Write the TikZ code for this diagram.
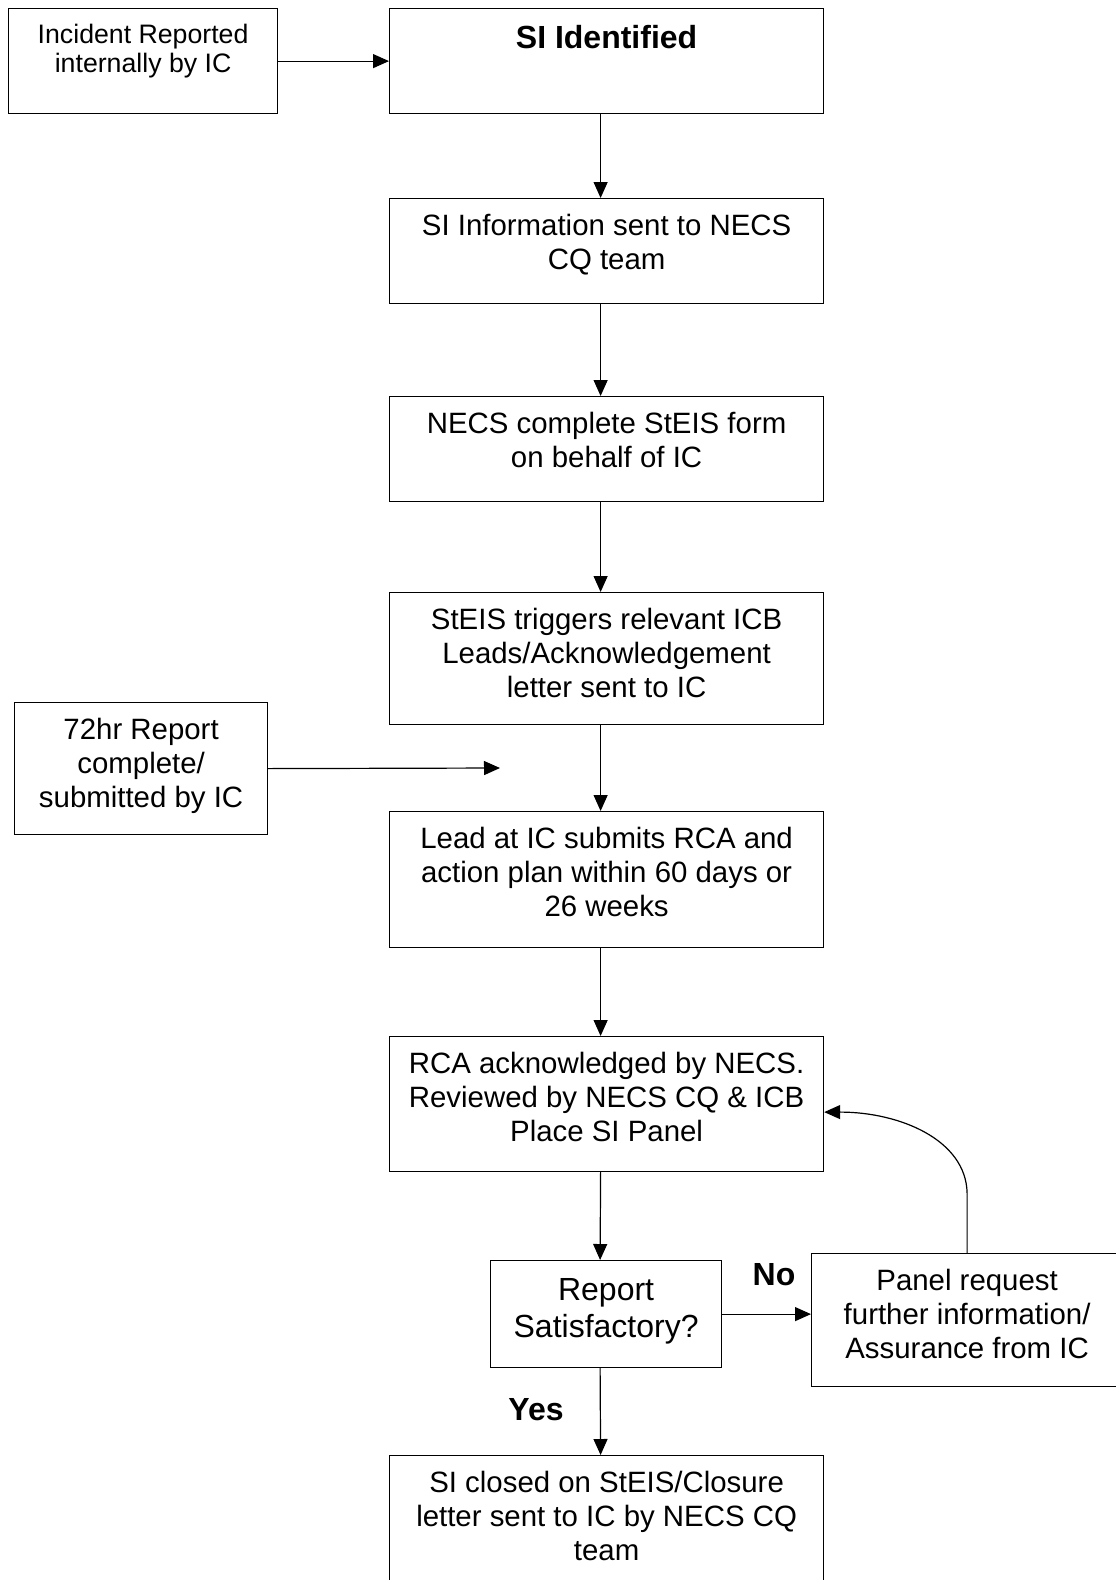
\documentclass[tikz,border=0pt]{standalone}
\usepackage{fontspec}
\setmainfont{Liberation Sans}
\usetikzlibrary{arrows.meta,positioning}
\tikzset{
  box/.style={draw, line width=1.2pt, anchor=north west, inner sep=0pt},
  txt/.style={anchor=north, align=center, inner sep=0pt, font=\fontsize{29.4}{34}\selectfont},
  lbl/.style={font=\fontsize{32}{36}\selectfont\bfseries},
  arr/.style={line width=1.2pt, -{Triangle[length=16pt,width=14pt]}},
}
\begin{document}
\begin{tikzpicture}[x=1pt,y=-1pt]
  \useasboundingbox[fill=white] (0,0) rectangle (1116,1580);
  % boxes
  \node[box, minimum width=269pt, minimum height=105pt] (inc) at (8,8) {};
  \node[box, minimum width=434pt, minimum height=105pt] (ident) at (389,8) {};
  \node[box, minimum width=434pt, minimum height=105pt] (info) at (389,198) {};
  \node[box, minimum width=434pt, minimum height=105pt] (necs) at (389,396) {};
  \node[box, minimum width=434pt, minimum height=132pt] (steis) at (389,592) {};
  \node[box, minimum width=253pt, minimum height=132pt] (hr72) at (14,702) {};
  \node[box, minimum width=434pt, minimum height=136pt] (lead) at (389,811) {};
  \node[box, minimum width=434pt, minimum height=135pt] (rca) at (389,1036) {};
  \node[box, minimum width=231pt, minimum height=107pt] (rep) at (490,1260) {};
  \node[box, minimum width=311pt, minimum height=133pt] (panel) at (811,1253) {};
  \node[box, minimum width=434pt, minimum height=150pt] (close) at (389,1455) {};
  % texts
  \node[txt, font=\fontsize{26.7}{29}\selectfont, below=16pt of inc.north] (incT) {Incident Reported\\internally by IC};
  \node[txt, font=\fontsize{32}{36}\selectfont\bfseries, below=17pt of ident.north] (identT) {SI Identified};
  \node[txt, below=16pt of info.north] (infoT) {SI Information sent to NECS\\CQ team};
  \node[txt, below=16pt of necs.north] (necsT) {NECS complete StEIS form\\on behalf of IC};
  \node[txt, below=16pt of steis.north] (steisT) {StEIS triggers relevant ICB\\Leads/Acknowledgement\\letter sent to IC};
  \node[txt, below=16pt of hr72.north] (hr72T) {72hr Report\\complete/\\submitted by IC};
  \node[txt, below=16pt of lead.north] (leadT) {Lead at IC submits RCA and\\action plan within 60 days or\\26 weeks};
  \node[txt, below=16pt of rca.north] (rcaT) {RCA acknowledged by NECS.\\Reviewed by NECS CQ \& ICB\\Place SI Panel};
  \node[txt, font=\fontsize{32}{37}\selectfont, below=18pt of rep.north] (repT) {Report\\Satisfactory?};
  \node[txt, below=16pt of panel.north] (panelT) {Panel request\\further information/\\Assurance from IC};
  \node[txt, below=16pt of close.north] (closeT) {SI closed on StEIS/Closure\\letter sent to IC by NECS CQ\\team};
  % connectors
  \draw[arr] (inc.east) -- (ident.west);
  \foreach \a/\b in {ident/info, info/necs, necs/steis, steis/lead, lead/rca, rca/rep, rep/close}
    \draw[arr] ([xshift=-6pt]\a.south) -- ([xshift=-6pt]\b.north);
  \coordinate (hrend) at (500,768);
  \draw[arr] (hr72.east) -- (hrend);
  \draw[arr] (rep.east) -- (rep.east -| panel.west);
  \draw[arr] (panel.north) -- ++(0,-60) .. controls (966,1140) and (900,1112) .. ([yshift=-8pt]rca.east);
  \node[lbl] (no) at (774,1275) {No};
  \node[lbl] (yes) at (536,1410) {Yes};
\end{tikzpicture}
\end{document}
